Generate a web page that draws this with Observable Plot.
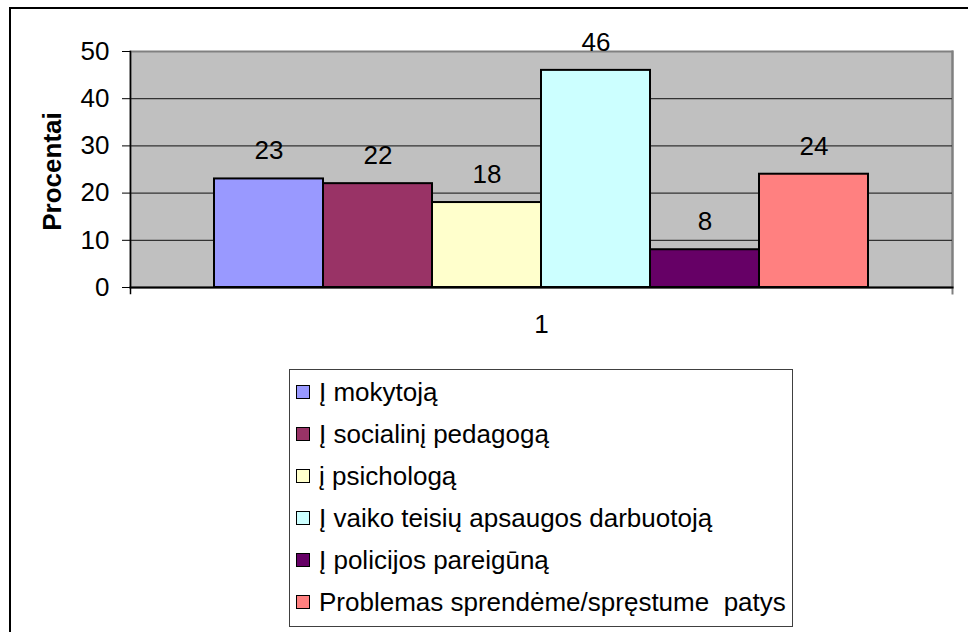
<!DOCTYPE html>
<html>
<head>
<meta charset="utf-8">
<script src="https://cdn.jsdelivr.net/npm/d3@7"></script>
<script src="https://cdn.jsdelivr.net/npm/@observablehq/plot@0.6"></script>
<style>
  html, body { margin: 0; padding: 0; background: #fff; }
  body { width: 968px; height: 632px; position: relative; overflow: hidden; font-family: "Liberation Sans", Arial, sans-serif; }
  #outer { position: absolute; left: 9px; top: 7px; width: 1100px; height: 800px; border-left: 2px solid #000; border-top: 2px solid #000; box-sizing: border-box; }
  #chart { position: absolute; left: 0; top: 0; }
  #legend { position: absolute; left: 289px; top: 369px; width: 504px; height: 258px; border: 1px solid #404040; box-sizing: border-box; background: #fff; }
  .row { position: absolute; left: 0; height: 30px; display: flex; align-items: center; font-size: 26px; color: #000; white-space: pre; }
  .sw { width: 12px; height: 12px; border: 1px solid #000; margin-left: 6px; margin-right: 9px; flex: none; }
</style>
</head>
<body>
<div id="outer"></div>
<div id="chart"></div>
<div id="legend"></div>
<script>
const categories = ["1"];
const series = [
  "Į mokytoją",
  "Į socialinį pedagogą",
  "į psichologą",
  "Į vaiko teisių apsaugos darbuotoją",
  "Į policijos pareigūną",
  "Problemas sprendėme/spręstume  patys"
];
const values = [23, 22, 18, 46, 8, 24];
const colors = ["#9999FF", "#993366", "#FFFFCC", "#CCFFFF", "#660066", "#FF8080"];
const yTicks = [0, 10, 20, 30, 40, 50];
const gridTicks = [10, 20, 30, 40];
const yLabel = "Procentai";

const data = series.map((s, i) => ({cat: categories[0], series: s, value: values[i]}));

const chart = Plot.plot({
  width: 968,
  height: 350,
  marginLeft: 130,
  marginRight: 16,
  marginTop: 51,
  marginBottom: 63,
  style: {fontFamily: "'Liberation Sans', Arial, sans-serif", fontSize: "26px", color: "#000", background: "transparent"},
  fx: {domain: categories, padding: 0, label: null},
  x: {domain: series, padding: 0, insetLeft: 82, insetRight: 82, axis: null},
  y: {domain: [0, 50], label: null},
  color: {domain: series, range: colors},
  marks: [
    Plot.frame({fill: "#C0C0C0", stroke: "#808080", strokeWidth: 2}),
    Plot.frame({anchor: "right", stroke: "#808080", strokeWidth: 2, insetBottom: -6}),
    Plot.ruleY(gridTicks, {stroke: "#333", strokeWidth: 1.2}),
    Plot.barY(data, {fx: "cat", x: "series", y: "value", fill: "series", stroke: "#000", strokeWidth: 2}),
    Plot.text(data, {fx: "cat", x: "series", y: "value", text: d => String(d.value), dy: -28, fontSize: 26, fill: "#000"}),
    Plot.frame({anchor: "bottom", stroke: "#000", strokeWidth: 2}),
    Plot.frame({anchor: "left", stroke: "#000", strokeWidth: 1.5, insetBottom: -6}),
    Plot.axisY({ticks: yTicks, tickSize: 8, tickPadding: 13, label: null, fontSize: 26, stroke: "#000"}),
    Plot.axisFx({anchor: "bottom", tickSize: 0, tickPadding: 27, label: null, fontSize: 26}),
    Plot.text([yLabel], {frameAnchor: "left", textAnchor: "middle", dx: -78, dy: 2, rotate: -90, fontWeight: "bold", fontSize: 26, fill: "#000"})
  ]
});
document.getElementById("chart").appendChild(chart);

const legend = document.getElementById("legend");
series.forEach((s, i) => {
  const row = document.createElement("div");
  row.className = "row";
  row.style.top = (7 + i * 42) + "px";
  const sw = document.createElement("div");
  sw.className = "sw";
  sw.style.background = colors[i];
  const t = document.createElement("span");
  t.textContent = s;
  row.appendChild(sw);
  row.appendChild(t);
  legend.appendChild(row);
});
</script>
</body>
</html>
